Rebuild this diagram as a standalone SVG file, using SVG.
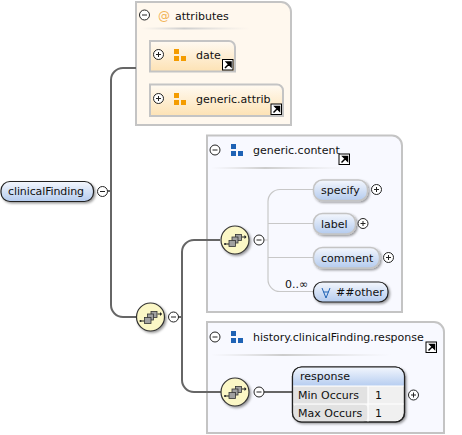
<svg xmlns="http://www.w3.org/2000/svg" width="462" height="435" viewBox="0 0 462 435">
<style>
text{font-family:"DejaVu Sans","Liberation Sans",sans-serif;font-size:11px;fill:#111}
.box{stroke:#c4c4c4;stroke-width:2}
.attr{fill:#fff8ee}
.cont{fill:#f8f9ff}
.uline{fill:none;stroke:#666;stroke-width:2}
.lline{fill:none;stroke:#c8c8c8;stroke-width:1.2}
.el{fill:url(#blue);stroke:#222;stroke-width:1.2}
.el2{fill:url(#blue);stroke:#c4c4c4;stroke-width:1.5}
.ag{fill:url(#org);stroke:#c4c4c4;stroke-width:2}
.bt{fill:#fff;stroke:#222;stroke-width:1}
.bl{fill:none;stroke:#222;stroke-width:1}
.seqc{fill:#fbf7c6;stroke:#333;stroke-width:1.2}
.sq{fill:#a0a0a0;stroke:#333;stroke-width:.8}
.o{fill:#f49c00}
.b{fill:#1f63b5}
</style>
<defs>
<linearGradient id="blue" x1="0" y1="0" x2="0" y2="1"><stop offset="0" stop-color="#f4f7fd"/><stop offset="1" stop-color="#b4cbee"/></linearGradient>
<linearGradient id="org" x1="0" y1="0" x2="0" y2="1"><stop offset="0" stop-color="#fffaf2"/><stop offset="1" stop-color="#fde2b4"/></linearGradient>
<linearGradient id="hd" x1="0" y1="0" x2="0" y2="1"><stop offset="0" stop-color="#f2f6fd"/><stop offset="1" stop-color="#b6cdf0"/></linearGradient>
<linearGradient id="rule" x1="0" y1="0" x2="1" y2="0"><stop offset="0" stop-color="#ddd" stop-opacity="0"/><stop offset=".4" stop-color="#ccc"/><stop offset="1" stop-color="#ddd" stop-opacity="0"/></linearGradient>
<filter id="sh" x="-20%" y="-20%" width="140%" height="140%"><feDropShadow dx="1.5" dy="1.5" stdDeviation="1" flood-color="#000" flood-opacity=".4"/></filter>
<g id="plus"><circle r="5" class="bt"/><path d="M-2.5 0H2.5M0-2.5V2.5" class="bl"/></g>
<g id="minus"><circle r="5" class="bt"/><path d="M-2.5 0H2.5" class="bl"/></g>
<g id="ext"><rect x="0" y="0" width="10.500" height="10.500" fill="#fff" stroke="#000" stroke-width="1"/><path d="M2.500 8.500L6.500 4.500M4 2.500H8.500V7z" stroke="#000" stroke-width="1.500" fill="#000"/></g>
<g id="squares-o"><rect x="0" y="0" width="5" height="5" class="o"/><rect x="0" y="7" width="5" height="5" class="o"/><rect x="7" y="7" width="5" height="5" class="o"/></g>
<g id="squares-b"><rect x="0" y="0" width="5" height="5" class="b"/><rect x="0" y="7" width="5" height="5" class="b"/><rect x="7" y="7" width="5" height="5" class="b"/></g>
<g id="seq"><circle r="14" class="seqc" filter="url(#sh)"/><path d="M-10 4H-6M7-3H11" stroke="#222" stroke-width="1" fill="none"/><circle cx="-10" cy="4" r="1" fill="#222"/><path d="M9.500-5L11.500-3L9.500-1z" fill="#222"/><rect x="0.500" y="-5.500" width="6" height="6" class="sq"/><rect x="-3" y="-3" width="6" height="6" class="sq"/><rect x="-6" y="0.500" width="6.500" height="6" class="sq"/></g>
</defs>

<g id="box-attributes">
<path class="box attr" d="M136 2H281a10 10 0 0 1 10 10V125H136z"/>
<rect x="140" y="27.500" width="110" height="2" fill="url(#rule)"/>
<use href="#minus" x="144.500" y="15"/>
<text x="158" y="20" style="fill:#f2b355;font-size:12px">@</text>
<text x="175" y="19.500">attributes</text>
</g>
<g id="node-date">
<path class="ag" d="M150 41H229a6 6 0 0 1 6 6V71.500H150z"/>
<use href="#plus" x="158.500" y="54.500"/>
<use href="#squares-o" x="174" y="49"/>
<text x="196" y="58.500">date</text>
<use href="#ext" x="222.500" y="59.500"/>
</g>
<g id="node-generic-attrib">
<path class="ag" d="M150 84.500H277a6 6 0 0 1 6 6V116H150z"/>
<use href="#plus" x="158.500" y="98.500"/>
<use href="#squares-o" x="174" y="93"/>
<text x="196" y="102.500">generic.attrib</text>
<use href="#ext" x="271" y="104"/>
</g>

<g id="box-generic-content">
<path class="box cont" d="M207 135.500H392a10 10 0 0 1 10 10V312H207z"/>
<rect x="211" y="167" width="135" height="2" fill="url(#rule)"/>
<use href="#minus" x="215" y="150"/>
<use href="#squares-b" x="231" y="144"/>
<text x="253" y="153.500">generic.content</text>
<use href="#ext" x="339" y="154"/>
</g>
<g id="box-response">
<path class="box cont" d="M207 322H434a10 10 0 0 1 10 10V433H207z"/>
<rect x="211" y="354" width="180" height="2" fill="url(#rule)"/>
<use href="#minus" x="215" y="337"/>
<use href="#squares-b" x="231" y="331"/>
<text x="253" y="340.500">history.clinicalFinding.response</text>
<use href="#ext" x="426" y="342"/>
</g>

<g id="connectors">
<path class="uline" d="M107 191H111M136 68H123a12 12 0 0 0-12 12V305a12 12 0 0 0 12 12H137"/>
<path class="uline" d="M178 317H182M220 240H194a12 12 0 0 0-12 12V380a12 12 0 0 0 12 12H221"/>
<path class="uline" d="M264 392H292"/>
<path class="lline" d="M264 240H268M313 189.500H280a12 12 0 0 0-12 12V279a12 12 0 0 0 12 12.500H313M268 223.500H313M268 257.500H313"/>
</g>

<g id="node-clinicalFinding">
<rect class="el" x="1" y="181.500" width="92.500" height="20" rx="9" filter="url(#sh)"/>
<text x="8" y="195" textLength="76">clinicalFinding</text>
<use href="#minus" x="102.500" y="191.500"/>
</g>
<g id="seq-main"><use href="#seq" x="150.500" y="317"/><use href="#minus" x="173.500" y="317"/></g>
<g id="seq-content"><use href="#seq" x="235" y="240"/><use href="#minus" x="259" y="240"/></g>
<g id="seq-response"><use href="#seq" x="235" y="392"/><use href="#minus" x="259" y="392"/></g>

<g id="node-specify">
<rect class="el2" x="313.500" y="180" width="54" height="20.500" rx="9" filter="url(#sh)"/>
<text x="321" y="193.500">specify</text>
<use href="#plus" x="376.500" y="189.500"/>
</g>
<g id="node-label">
<rect class="el2" x="313.500" y="213.500" width="42" height="20.500" rx="9" filter="url(#sh)"/>
<text x="321" y="227.500">label</text>
<use href="#plus" x="363" y="223.500"/>
</g>
<g id="node-comment">
<rect class="el2" x="313.500" y="247.500" width="66" height="20.500" rx="9" filter="url(#sh)"/>
<text x="321" y="261.500">comment</text>
<use href="#plus" x="388.500" y="257.500"/>
</g>
<g id="node-other">
<text x="285" y="288">0..∞</text>
<rect class="el" x="313.500" y="282" width="74.500" height="20" rx="9" filter="url(#sh)"/>
<path d="M322 288L326 298L330 288M323.500 292H328.500" fill="none" stroke="#1f63b5" stroke-width="1"/>
<text x="336" y="296">##other</text>
</g>
<g id="node-response">
<rect x="292.500" y="367" width="112" height="55" rx="9" fill="#f0f0f0" stroke="#222" stroke-width="1.200" filter="url(#sh)"/>
<path d="M293 386V376a9 9 0 0 1 9-9H395a9 9 0 0 1 9 9V386z" fill="url(#hd)"/>
<rect x="293" y="386.500" width="75" height="17.500" fill="#e2e2e2"/>
<rect x="293" y="404.500" width="75" height="17" fill="#e2e2e2" rx="5"/>
<path d="M293 386H404M293 404H404M368 386V422" stroke="#fff" stroke-width="1.200" fill="none"/>
<rect x="292.500" y="367" width="112" height="55" rx="9" fill="none" stroke="#222" stroke-width="1.200"/>
<text x="300" y="380">response</text>
<text x="298" y="399">Min Occurs</text>
<text x="375" y="399">1</text>
<text x="298" y="417">Max Occurs</text>
<text x="375" y="417">1</text>
<use href="#plus" x="413.500" y="395"/>
</g>
</svg>
